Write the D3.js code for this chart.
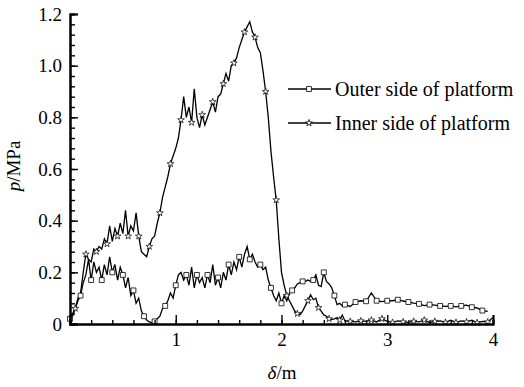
<!DOCTYPE html>
<html>
<head>
<meta charset="utf-8">
<script src="https://cdn.jsdelivr.net/npm/d3@7"></script>
<style>
  body { margin: 0; background: #fff; }
  svg text { font-family: "Liberation Serif", "DejaVu Serif", "Times New Roman", serif !important; fill: #000; }
</style>
</head>
<body>
<script>
// outer side of platform (delta in m, p in MPa)
var outerDelta = [0, 0.025, 0.05, 0.075, 0.1, 0.125, 0.15, 0.175, 0.2, 0.225, 0.25, 0.275, 0.3, 0.325, 0.35, 0.375, 0.4, 0.425, 0.45, 0.475,
    0.5, 0.525, 0.55, 0.575, 0.6, 0.625, 0.65, 0.675, 0.7, 0.725, 0.75, 0.775, 0.8, 0.825, 0.85, 0.875, 0.9, 0.925, 0.95, 0.975,
    1, 1.025, 1.05, 1.075, 1.1, 1.125, 1.15, 1.175, 1.2, 1.225, 1.25, 1.275, 1.3, 1.325, 1.35, 1.375, 1.4, 1.425, 1.45, 1.475,
    1.5, 1.525, 1.55, 1.575, 1.6, 1.625, 1.65, 1.675, 1.7, 1.725, 1.75, 1.775, 1.8, 1.825, 1.85, 1.875, 1.9, 1.925, 1.95, 1.975,
    2, 2.025, 2.05, 2.075, 2.1, 2.125, 2.15, 2.175, 2.2, 2.225, 2.25, 2.275, 2.3, 2.325, 2.35, 2.375, 2.4, 2.425, 2.45, 2.475,
    2.5, 2.525, 2.55, 2.575, 2.6, 2.65, 2.7, 2.75, 2.8, 2.85, 2.9, 2.95, 3, 3.05, 3.1, 3.15, 3.2, 3.25, 3.3, 3.35,
    3.4, 3.45, 3.5, 3.55, 3.6, 3.65, 3.7, 3.75, 3.8, 3.85, 3.9, 3.95];
var outerP = [0.02, 0.04, 0.06, 0.09, 0.11, 0.16, 0.19, 0.25, 0.17, 0.24, 0.2, 0.22, 0.17, 0.23, 0.19, 0.26, 0.2, 0.23, 0.17, 0.22,
    0.19, 0.14, 0.18, 0.11, 0.13, 0.08, 0.1, 0.05, 0.03, 0.015, 0.008, 0.005, 0.01, 0.02, 0.03, 0.06, 0.07, 0.09, 0.12, 0.1,
    0.15, 0.19, 0.2, 0.17, 0.19, 0.15, 0.22, 0.14, 0.19, 0.16, 0.18, 0.14, 0.19, 0.16, 0.23, 0.15, 0.18, 0.14, 0.2, 0.17,
    0.23, 0.19, 0.24, 0.21, 0.26, 0.22, 0.27, 0.3, 0.25, 0.27, 0.24, 0.22, 0.23, 0.21, 0.22, 0.17, 0.14, 0.11, 0.09, 0.12,
    0.08, 0.11, 0.09, 0.12, 0.13, 0.14, 0.155, 0.16, 0.165, 0.165, 0.17, 0.165, 0.17, 0.19, 0.15, 0.145, 0.2, 0.165, 0.155, 0.14,
    0.11, 0.075, 0.08, 0.07, 0.075, 0.068, 0.085, 0.09, 0.088, 0.12, 0.09, 0.087, 0.09, 0.09, 0.094, 0.089, 0.085, 0.081, 0.078, 0.071,
    0.075, 0.073, 0.07, 0.068, 0.07, 0.066, 0.07, 0.073, 0.065, 0.062, 0.052, 0.049];

// inner side of platform
var innerDelta = [0, 0.025, 0.05, 0.075, 0.1, 0.125, 0.15, 0.175, 0.2, 0.225, 0.25, 0.275, 0.3, 0.325, 0.35, 0.375, 0.4, 0.425, 0.45, 0.475,
    0.5, 0.525, 0.55, 0.575, 0.6, 0.625, 0.65, 0.675, 0.7, 0.725, 0.75, 0.775, 0.8, 0.825, 0.85, 0.875, 0.9, 0.925, 0.95, 0.975,
    1, 1.025, 1.05, 1.075, 1.1, 1.125, 1.15, 1.175, 1.2, 1.225, 1.25, 1.275, 1.3, 1.325, 1.35, 1.375, 1.4, 1.425, 1.45, 1.475,
    1.5, 1.525, 1.55, 1.575, 1.6, 1.625, 1.65, 1.675, 1.7, 1.725, 1.75, 1.775, 1.8, 1.825, 1.85, 1.875, 1.9, 1.925, 1.95, 1.975,
    2, 2.025, 2.05, 2.075, 2.1, 2.125, 2.15, 2.175, 2.2, 2.225, 2.25, 2.275, 2.3, 2.325, 2.35, 2.375, 2.4, 2.425, 2.45, 2.475,
    2.5, 2.525, 2.55, 2.575, 2.6, 2.65, 2.7, 2.75, 2.8, 2.85, 2.9, 2.95, 3, 3.05, 3.1, 3.15, 3.2, 3.25, 3.3, 3.35,
    3.4, 3.45, 3.5, 3.55, 3.6, 3.65, 3.7, 3.75, 3.8, 3.85, 3.9, 3.95, 4];
var innerP = [0.02, 0.03, 0.06, 0.1, 0.12, 0.2, 0.27, 0.25, 0.24, 0.29, 0.28, 0.3, 0.29, 0.33, 0.31, 0.38, 0.32, 0.37, 0.34, 0.39,
    0.35, 0.44, 0.34, 0.38, 0.36, 0.43, 0.34, 0.28, 0.27, 0.26, 0.3, 0.33, 0.34, 0.39, 0.43, 0.49, 0.53, 0.57, 0.62, 0.65,
    0.68, 0.72, 0.79, 0.88, 0.8, 0.84, 0.78, 0.91, 0.8, 0.76, 0.81, 0.77, 0.8, 0.83, 0.86, 0.82, 0.88, 0.89, 0.93, 0.97,
    0.94, 1.0, 1.01, 1.03, 1.07, 1.1, 1.13, 1.15, 1.17, 1.13, 1.11, 1.07, 1.05, 0.98, 0.9, 0.8, 0.67, 0.57, 0.48, 0.33,
    0.2, 0.15, 0.11, 0.09, 0.07, 0.05, 0.04, 0.036, 0.05, 0.07, 0.09, 0.113, 0.094, 0.1, 0.063, 0.05, 0.035, 0.03, 0.02, 0.017,
    0.02, 0.025, 0.015, 0.035, 0.012, 0.01, 0.008, 0.012, 0.01, 0.015, 0.008, 0.02, 0.01, 0.006, 0.012, 0.008, 0.006, 0.01, 0.008, 0.015,
    0.006, 0.01, 0.012, 0.006, 0.015, 0.006, 0.012, 0.008, 0.015, 0.005, 0.01, 0.008, 0.025];

var yTicks = [0, 0.2, 0.4, 0.6, 0.8, 1.0, 1.2];
var xTicks = [1, 2, 3, 4];
var seriesNames = ["Outer side of platform", "Inner side of platform"];

var width = 524;
var height = 387;
var margen = { arriba: 14, abajo: 63, izquierda: 70, derecha: 31 };

var x = d3.scaleLinear()
    .domain([0, 4])
    .range([margen.izquierda, width - margen.derecha]);

var y = d3.scaleLinear()
    .domain([0, 1.2])
    .range([height - margen.abajo, margen.arriba]);

var svg = d3.select("body")
    .append("svg")
    .attr("width", width)
    .attr("height", height);

var outer = outerDelta.map(function(d, i){ return { x: d, p: outerP[i] }; });
var inner = innerDelta.map(function(d, i){ return { x: d, p: innerP[i] }; });

var linea = d3.line()
    .x(function(d){ return x(d.x); })
    .y(function(d){ return y(d.p); });

svg.append("path").datum(outer)
    .attr("d", linea).attr("fill", "none").attr("stroke", "#000").attr("stroke-width", 1.3);
svg.append("path").datum(inner)
    .attr("d", linea).attr("fill", "none").attr("stroke", "#000").attr("stroke-width", 1.3);

// markers roughly every 0.1 m
function enDecima(v) { return Math.abs(v * 10 - Math.round(v * 10)) < 1e-6; }

var cuadrado = d3.symbol().type(d3.symbolSquare).size(24);
var estrella = d3.symbol().type(d3.symbolStar).size(14);

svg.selectAll(".m-outer")
    .data(outer.filter(function(d){ return enDecima(d.x); }))
    .join("path")
    .attr("class", "m-outer")
    .attr("transform", function(d){ return "translate(" + x(d.x) + "," + y(d.p) + ")"; })
    .attr("d", cuadrado)
    .attr("fill", "#fff").attr("stroke", "#000").attr("stroke-width", 0.8);

svg.selectAll(".m-inner")
    .data(inner.filter(function(d){ return enDecima(d.x + 0.05); }))
    .join("path")
    .attr("class", "m-inner")
    .attr("transform", function(d){ return "translate(" + x(d.x) + "," + y(d.p) + ")"; })
    .attr("d", estrella)
    .attr("fill", "#fff").attr("stroke", "#000").attr("stroke-width", 0.7);

// axes: ticks point inward
var ejeY = d3.axisLeft(y).tickValues(d3.range(0, 1.2001, 0.04)).tickSize(-5).tickFormat("");
svg.append("g").attr("transform", "translate(" + margen.izquierda + ",0)").call(ejeY);
var ejeYMayor = d3.axisLeft(y).tickValues(yTicks).tickSize(-8)
    .tickFormat(function(d){ return d === 0 ? "0" : d3.format(".1f")(d); });
svg.append("g").attr("class", "ejeY").attr("transform", "translate(" + margen.izquierda + ",0)").call(ejeYMayor);

var ejeX = d3.axisBottom(x).tickValues(d3.range(0, 4.001, 0.2)).tickSize(-4).tickFormat("");
svg.append("g").attr("transform", "translate(0," + (height - margen.abajo) + ")").call(ejeX);
var ejeXMayor = d3.axisBottom(x).tickValues(xTicks).tickSize(-9).tickPadding(9).tickFormat(d3.format("d"));
svg.append("g").attr("class", "ejeX").attr("transform", "translate(0," + (height - margen.abajo) + ")").call(ejeXMayor);

svg.selectAll(".domain").attr("stroke-width", 2);
svg.selectAll(".tick line").attr("stroke-width", 1.4);
svg.selectAll(".tick text").attr("font-size", 19);
svg.selectAll(".ejeY .tick text").attr("x", -8);

// axis titles
var tx = svg.append("text")
    .attr("x", 282).attr("y", 379)
    .attr("text-anchor", "middle")
    .attr("font-size", 19);
tx.append("tspan").style("font-style", "italic").text("δ");
tx.append("tspan").text("/m");

var ty = svg.append("text")
    .attr("transform", "translate(20,166) rotate(-90)")
    .attr("text-anchor", "middle")
    .attr("font-size", 19);
ty.append("tspan").style("font-style", "italic").text("p");
ty.append("tspan").text("/MPa");

// legend
var leyenda = svg.selectAll(".leyenda")
    .data(seriesNames)
    .join("g")
    .attr("class", "leyenda")
    .attr("transform", function(d, i){ return "translate(288," + (89 + i * 34) + ")"; });

leyenda.append("line")
    .attr("x1", 0).attr("x2", 43).attr("y1", 0).attr("y2", 0)
    .attr("stroke", "#000").attr("stroke-width", 1.3);
leyenda.append("path")
    .attr("transform", "translate(21,0)")
    .attr("d", function(d, i){ return i === 0 ? cuadrado() : estrella(); })
    .attr("fill", "#fff").attr("stroke", "#000").attr("stroke-width", 0.8);
leyenda.append("text")
    .attr("x", 47).attr("y", 7)
    .attr("font-size", 20)
    .text(function(d){ return d; });
</script>
</body>
</html>
